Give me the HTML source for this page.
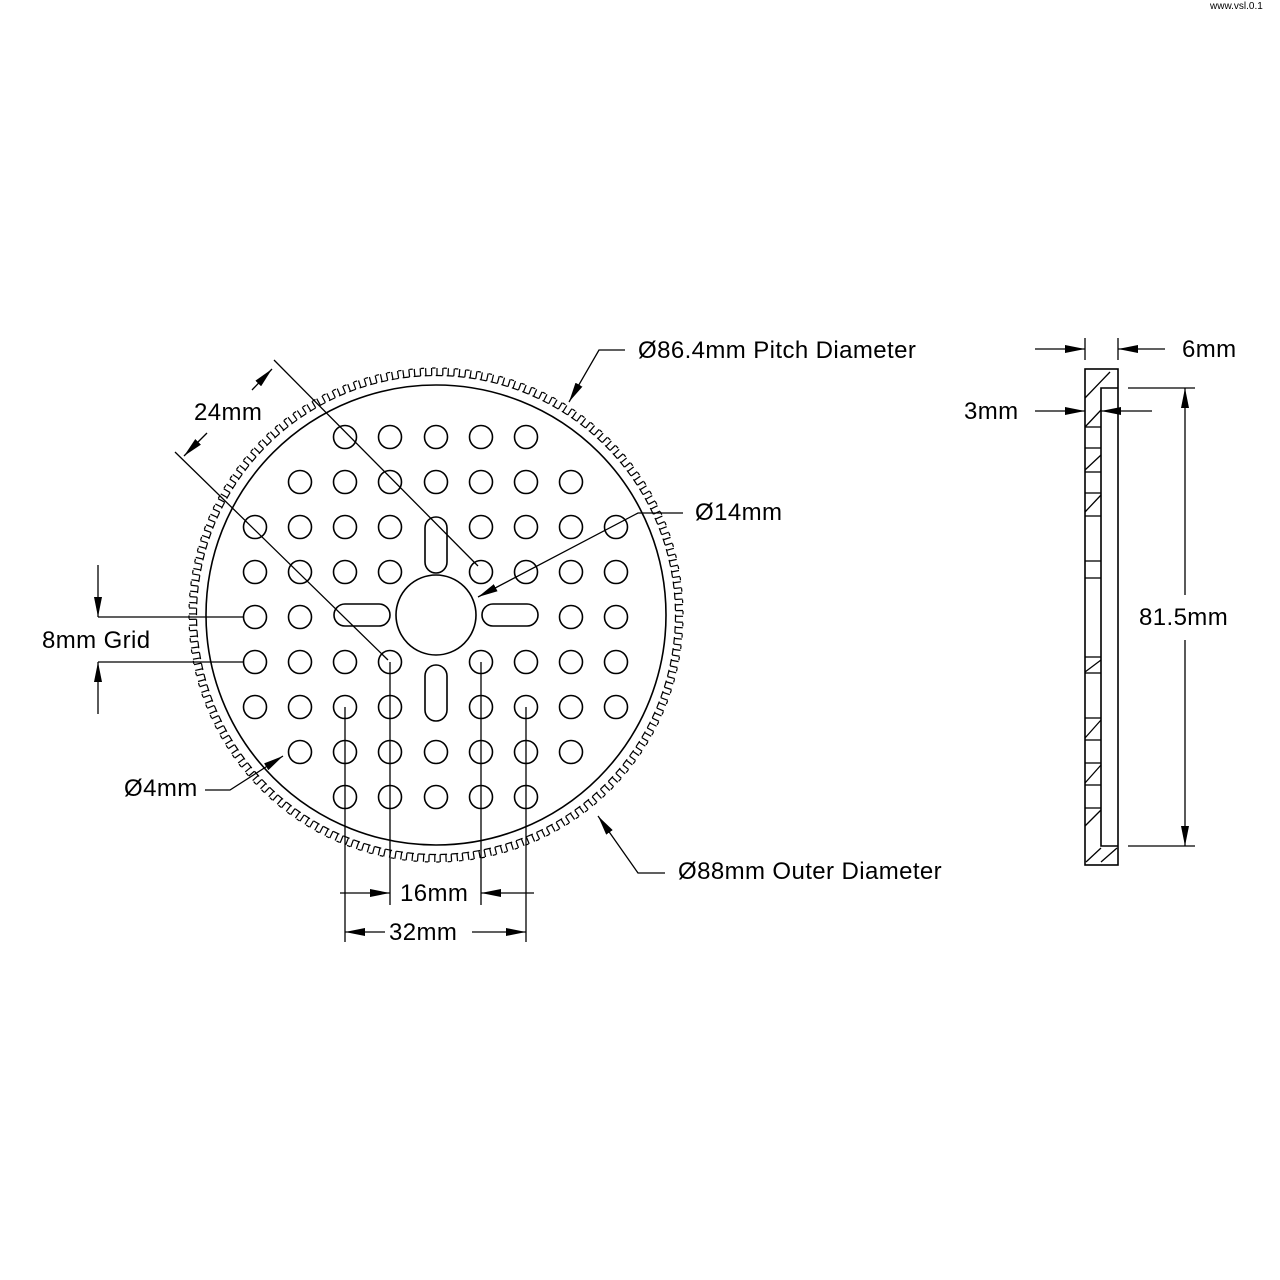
<!DOCTYPE html>
<html><head><meta charset="utf-8"><style>
html,body{margin:0;padding:0;background:#fff;}
svg{display:block;}
text{font-family:"Liberation Sans","DejaVu Sans",sans-serif;font-size:24px;letter-spacing:0.4px;fill:#000;}
</style></head><body>
<svg width="1280" height="1280" viewBox="0 0 1280 1280" xmlns="http://www.w3.org/2000/svg">
<defs>
<marker id="a" viewBox="0 0 20 8" refX="20" refY="4" markerWidth="20" markerHeight="8" markerUnits="userSpaceOnUse" orient="auto"><path d="M0,0 L20,4 L0,8 Z" fill="#000"/></marker>
<circle id="h" r="11.5" fill="none" stroke="#000" stroke-width="1.6"/>
</defs>
<g fill="none" stroke="#000" stroke-width="1.6">
<circle cx="436" cy="615" r="230"/>
<circle cx="436" cy="615" r="40"/>
<rect x="425" y="517" width="22" height="56" rx="11"/>
<rect x="425" y="665" width="22" height="56" rx="11"/>
<rect x="334" y="604" width="56" height="22" rx="11"/>
<rect x="482" y="604" width="56" height="22" rx="11"/>
<circle cx="436" cy="615" r="239.5" stroke-width="1.2" pathLength="136" stroke-dasharray="0.62 0.38"/>
<circle cx="436" cy="615" r="247" stroke-width="1.2" pathLength="136" stroke-dasharray="0.3 0.7" stroke-dashoffset="-0.69"/>
<circle cx="436" cy="615" r="243.3" stroke-width="7.5" pathLength="136" stroke-dasharray="0.11 0.37 0.11 0.41" stroke-dashoffset="-0.58"/>
</g>
<g>
<use href="#h" x="345" y="437"/><use href="#h" x="390" y="437"/><use href="#h" x="436" y="437"/><use href="#h" x="481" y="437"/><use href="#h" x="526" y="437"/>
<use href="#h" x="300" y="482"/><use href="#h" x="345" y="482"/><use href="#h" x="390" y="482"/><use href="#h" x="436" y="482"/><use href="#h" x="481" y="482"/><use href="#h" x="526" y="482"/><use href="#h" x="571" y="482"/>
<use href="#h" x="255" y="527"/><use href="#h" x="300" y="527"/><use href="#h" x="345" y="527"/><use href="#h" x="390" y="527"/><use href="#h" x="481" y="527"/><use href="#h" x="526" y="527"/><use href="#h" x="571" y="527"/><use href="#h" x="616" y="527"/>
<use href="#h" x="255" y="572"/><use href="#h" x="300" y="572"/><use href="#h" x="345" y="572"/><use href="#h" x="390" y="572"/><use href="#h" x="481" y="572"/><use href="#h" x="526" y="572"/><use href="#h" x="571" y="572"/><use href="#h" x="616" y="572"/>
<use href="#h" x="255" y="617"/><use href="#h" x="300" y="617"/><use href="#h" x="571" y="617"/><use href="#h" x="616" y="617"/>
<use href="#h" x="255" y="662"/><use href="#h" x="300" y="662"/><use href="#h" x="345" y="662"/><use href="#h" x="390" y="662"/><use href="#h" x="481" y="662"/><use href="#h" x="526" y="662"/><use href="#h" x="571" y="662"/><use href="#h" x="616" y="662"/>
<use href="#h" x="255" y="707"/><use href="#h" x="300" y="707"/><use href="#h" x="345" y="707"/><use href="#h" x="390" y="707"/><use href="#h" x="481" y="707"/><use href="#h" x="526" y="707"/><use href="#h" x="571" y="707"/><use href="#h" x="616" y="707"/>
<use href="#h" x="300" y="752"/><use href="#h" x="345" y="752"/><use href="#h" x="390" y="752"/><use href="#h" x="436" y="752"/><use href="#h" x="481" y="752"/><use href="#h" x="526" y="752"/><use href="#h" x="571" y="752"/>
<use href="#h" x="345" y="797"/><use href="#h" x="390" y="797"/><use href="#h" x="436" y="797"/><use href="#h" x="481" y="797"/><use href="#h" x="526" y="797"/>
</g>
<g fill="none" stroke="#000" stroke-width="1.3">
<line x1="274" y1="360" x2="478" y2="566"/>
<line x1="175" y1="452" x2="388" y2="660"/>
<line x1="252" y1="390" x2="272" y2="369" marker-end="url(#a)"/>
<line x1="207" y1="433" x2="184" y2="456" marker-end="url(#a)"/>
<polyline points="625,350 599,350 569,402" marker-end="url(#a)"/>
<polyline points="683,513 638,513 478,597" marker-end="url(#a)"/>
<polyline points="205,790 230,790 283,756" marker-end="url(#a)"/>
<polyline points="665,873 638,873 598,816" marker-end="url(#a)"/>
<line x1="98" y1="617" x2="244" y2="617"/>
<line x1="98" y1="662" x2="244" y2="662"/>
<line x1="98" y1="565" x2="98" y2="617" marker-end="url(#a)"/>
<line x1="98" y1="714" x2="98" y2="662" marker-end="url(#a)"/>
<line x1="345" y1="707" x2="345" y2="942"/>
<line x1="390" y1="662" x2="390" y2="905"/>
<line x1="481" y1="662" x2="481" y2="905"/>
<line x1="526" y1="707" x2="526" y2="942"/>
<line x1="340" y1="893" x2="390" y2="893" marker-end="url(#a)"/>
<line x1="534" y1="893" x2="481" y2="893" marker-end="url(#a)"/>
<line x1="385" y1="932" x2="345" y2="932" marker-end="url(#a)"/>
<line x1="472" y1="932" x2="526" y2="932" marker-end="url(#a)"/>
<rect x="1085" y="369" width="33" height="496" stroke-width="1.6"/>
<polyline points="1118,388 1101,388 1101,846 1118,846" stroke-width="1.6"/>
<line x1="1035" y1="349" x2="1085" y2="349" marker-end="url(#a)"/>
<line x1="1085" y1="338" x2="1085" y2="360"/>
<line x1="1118" y1="338" x2="1118" y2="360"/>
<line x1="1165" y1="349" x2="1118" y2="349" marker-end="url(#a)"/>
<line x1="1035" y1="411" x2="1085" y2="411" marker-end="url(#a)"/>
<line x1="1152" y1="411" x2="1101" y2="411" marker-end="url(#a)"/>
<line x1="1128" y1="388" x2="1195" y2="388"/>
<line x1="1128" y1="846" x2="1195" y2="846"/>
<line x1="1185" y1="595" x2="1185" y2="388" marker-end="url(#a)"/>
<line x1="1185" y1="640" x2="1185" y2="846" marker-end="url(#a)"/>
<line x1="1085" y1="427" x2="1101" y2="427"/><line x1="1085" y1="448" x2="1101" y2="448"/>
<line x1="1085" y1="472" x2="1101" y2="472"/><line x1="1085" y1="493" x2="1101" y2="493"/>
<line x1="1085" y1="516" x2="1101" y2="516"/><line x1="1085" y1="561" x2="1101" y2="561"/>
<line x1="1085" y1="578" x2="1101" y2="578"/><line x1="1085" y1="657" x2="1101" y2="657"/>
<line x1="1085" y1="673" x2="1101" y2="673"/><line x1="1085" y1="718" x2="1101" y2="718"/>
<line x1="1085" y1="740" x2="1101" y2="740"/><line x1="1085" y1="763" x2="1101" y2="763"/>
<line x1="1085" y1="785" x2="1101" y2="785"/><line x1="1085" y1="808" x2="1101" y2="808"/>
<line x1="1085" y1="398" x2="1110" y2="372"/><line x1="1085" y1="427" x2="1101" y2="410"/>
<line x1="1085" y1="470" x2="1101" y2="455"/><line x1="1085" y1="512" x2="1101" y2="495"/>
<line x1="1085" y1="672" x2="1101" y2="660"/><line x1="1085" y1="738" x2="1101" y2="720"/>
<line x1="1085" y1="783" x2="1101" y2="765"/><line x1="1085" y1="826" x2="1101" y2="810"/>
<line x1="1086" y1="862" x2="1101" y2="848"/><line x1="1101" y1="862" x2="1117" y2="848"/>
</g>
<text x="638" y="358">Ø86.4mm Pitch Diameter</text>
<text x="194" y="420">24mm</text>
<text x="695" y="520">Ø14mm</text>
<text x="42" y="648">8mm Grid</text>
<text x="124" y="796">Ø4mm</text>
<text x="678" y="879">Ø88mm Outer Diameter</text>
<text x="400" y="901">16mm</text>
<text x="389" y="940">32mm</text>
<text x="1182" y="357">6mm</text>
<text x="964" y="419">3mm</text>
<text x="1139" y="625">81.5mm</text>
<text x="1210" y="9" style="font-size:10px;letter-spacing:0">www.vsl.0.1</text>
</svg>
</body></html>
